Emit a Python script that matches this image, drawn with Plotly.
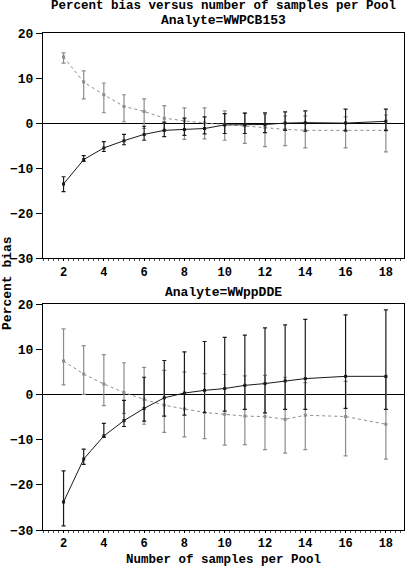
import plotly.graph_objects as go

# samples per pool (x positions)
pools = [2, 3, 4, 5, 6, 7, 8, 9, 10, 11, 12, 13, 14, 16, 18]

# Analyte = WWPCB153
pcb_solid = [-13.5, -8.1, -5.5, -3.9, -2.5, -1.6, -1.4, -1.2, -0.4, -0.4, -0.3, 0.0, 0.1, 0.0, 0.4]
pcb_solid_hi = [-11.9, -7.2, -4.1, -2.5, -0.7, 0.2, 1.1, 1.4, 2.1, 2.2, 2.3, 2.5, 2.7, 3.1, 3.1]
pcb_solid_lo = [-15.2, -8.5, -6.3, -4.8, -3.8, -3.0, -2.7, -2.4, -2.3, -2.3, -2.1, -1.6, -1.8, -1.7, -1.6]
pcb_dash = [14.7, 9.1, 6.3, 3.7, 2.6, 1.1, 0.5, 0.0, -0.3, -0.6, -1.0, -1.4, -1.6, -1.6, -1.6]
pcb_dash_hi = [15.6, 11.6, 8.9, 6.3, 5.4, 3.9, 3.4, 3.4, 2.7, 2.2, 2.0, 1.6, 1.6, 1.4, 1.8]
pcb_dash_lo = [13.3, 5.4, 2.3, 0.3, -1.2, -1.8, -3.6, -3.5, -3.8, -4.5, -5.2, -5.0, -5.5, -5.5, -6.4]

# Analyte = WWppDDE
dde_solid = [-23.8, -14.3, -9.2, -5.8, -3.1, -0.75, 0.3, 0.9, 1.3, 2.0, 2.4, 3.0, 3.5, 4.0, 4.0]
dde_solid_hi = [-16.9, -12.1, -6.4, -1.3, 3.8, 7.5, 9.4, 11.7, 12.6, 13.1, 14.7, 15.4, 16.6, 17.6, 18.7]
dde_solid_lo = [-29.1, -15.5, -9.5, -7.1, -5.9, -4.8, -4.6, -4.0, -3.7, -3.3, -4.1, -3.3, -3.3, -3.1, -3.3]
dde_dash = [7.4, 4.5, 2.3, 0.4, -1.1, -2.4, -3.2, -4.0, -4.4, -4.8, -4.9, -5.5, -4.6, -4.9, -6.6]
dde_dash_hi = [14.5, 10.8, 8.8, 7.0, 6.0, 5.3, 5.0, 4.6, 4.4, 4.1, 4.2, 3.8, 2.6, 2.9, 3.8]
dde_dash_lo = [2.1, 0.0, -2.5, -4.2, -6.6, -8.4, -9.4, -9.8, -11.2, -11.1, -12.2, -13.0, -12.2, -13.6, -14.3]

y_ticks = [-30, -20, -10, 0, 10, 20]
x_ticks = [2, 4, 6, 8, 10, 12, 14, 16, 18]

FONT = "Liberation Mono"
BLACK = "#1a1a1a"
GRAY = "#8c8c8c"


def series(y, hi, lo, color, dash, xa, ya):
    return go.Scatter(
        x=pools, y=y, xaxis=xa, yaxis=ya,
        mode="lines+markers",
        line=dict(color=color, width=1, dash=dash),
        marker=dict(symbol="square", size=3, color=color),
        error_y=dict(
            type="data", symmetric=False,
            array=[h - v for h, v in zip(hi, y)],
            arrayminus=[v - l for l, v in zip(lo, y)],
            color=color, thickness=1.2, width=2,
        ),
        hoverinfo="x+y",
    )


fig = go.Figure()
fig.add_trace(series(pcb_dash, pcb_dash_hi, pcb_dash_lo, GRAY, "dot", "x", "y"))
fig.add_trace(series(pcb_solid, pcb_solid_hi, pcb_solid_lo, BLACK, "solid", "x", "y"))
fig.add_trace(series(dde_dash, dde_dash_hi, dde_dash_lo, GRAY, "dot", "x2", "y2"))
fig.add_trace(series(dde_solid, dde_solid_hi, dde_solid_lo, BLACK, "solid", "x2", "y2"))

tick_font = dict(family=FONT, size=13, color="black", weight="bold")

xaxis_style = dict(
    range=[0.98, 18.9], tickvals=x_ticks, ticks="outside", ticklen=2,
    tickcolor="black", showline=True, linecolor="black", linewidth=1,
    mirror=True, showgrid=False, zeroline=False,
    minor=dict(dtick=0.25, ticks="outside", ticklen=2, tickcolor="#555"),
    tickfont=dict(tick_font, size=12),
)
yaxis_style = dict(
    range=[-30, 20], tickvals=y_ticks, ticks="outside", ticklen=6,
    tickcolor="black", showline=True, linecolor="black", linewidth=1,
    mirror=True, showgrid=False, zeroline=True, zerolinecolor="black",
    zerolinewidth=1.3, tickfont=tick_font,
)

fig.update_layout(
    width=407, height=566,
    margin=dict(l=43, r=3, t=33, b=36),
    paper_bgcolor="white", plot_bgcolor="white",
    showlegend=False,
    xaxis=dict(xaxis_style, anchor="y"),
    yaxis=dict(yaxis_style, domain=[0.5467, 1.0], anchor="x"),
    xaxis2=dict(xaxis_style, anchor="y2"),
    yaxis2=dict(yaxis_style, domain=[0.0, 0.4547], anchor="x2"),
    font=dict(family=FONT, size=13, color="black"),
)

notes = [
    ("Percent bias versus number of samples per Pool", 0.5, 1.054, 0, 12.5),
    ("Analyte=WWPCB153", 0.5, 1.026, 0, 13),
    ("Analyte=WWppDDE", 0.5, 0.477, 0, 13),
    ("Number of samples per Pool", 0.5, -0.0594, 0, 12.5),
    ("Percent bias", -0.097, 0.497, -90, 13),
]
for text, xp, yp, ang, size in notes:
    fig.add_annotation(
        text=text, x=xp, y=yp, xref="paper", yref="paper",
        xanchor="center", yanchor="middle", showarrow=False,
        textangle=ang, font=dict(tick_font, size=size),
    )

# drop the page's default body margin so the figure sits at the window corner
fig.write_html(
    "out.html",
    config={"displayModeBar": False},
    post_script="document.body.style.margin='0px';",
)
